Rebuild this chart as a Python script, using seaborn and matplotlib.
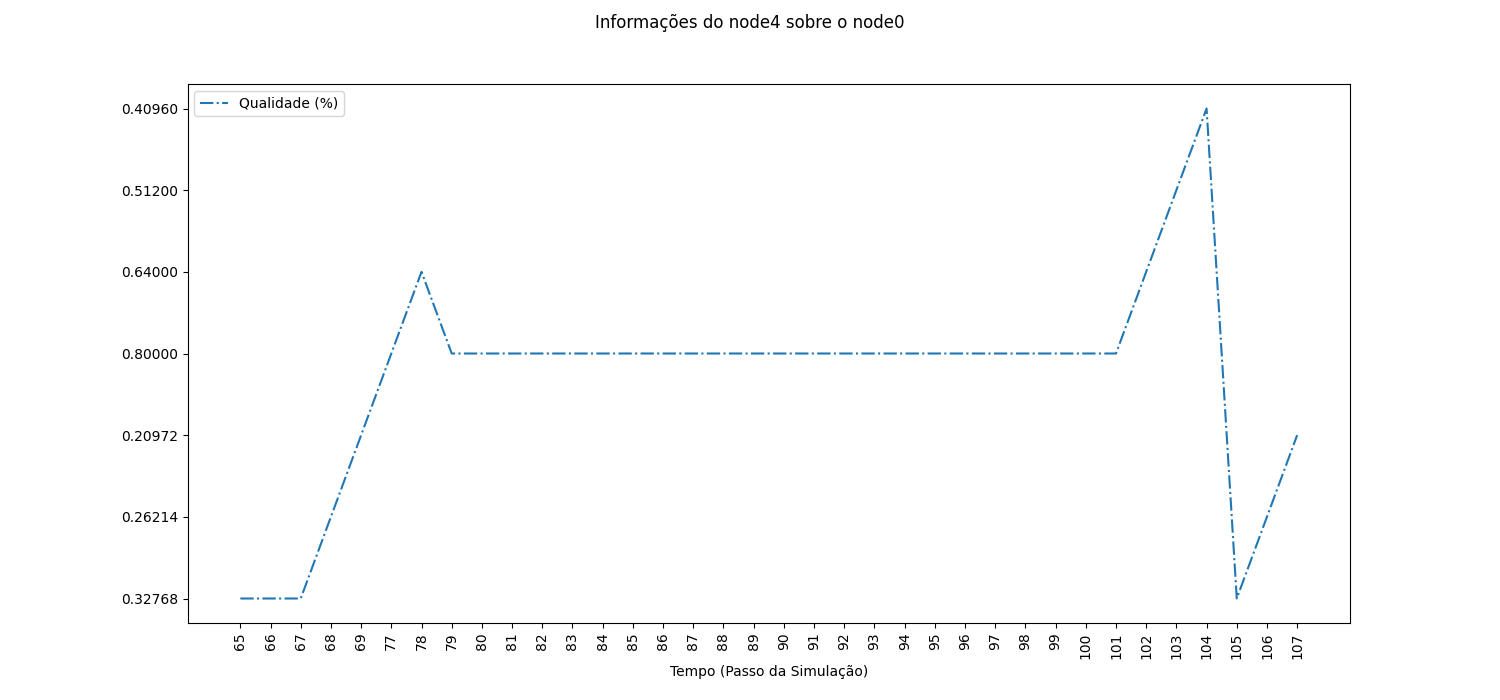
import matplotlib
matplotlib.use('Agg')
import matplotlib.pyplot as plt
import seaborn as sns

# simulation steps (as category labels) and quality values (as text labels)
steps = ['65', '66', '67', '68', '69', '77', '78', '79', '80', '81', '82', '83',
         '84', '85', '86', '87', '88', '89', '90', '91', '92', '93', '94', '95',
         '96', '97', '98', '99', '100', '101', '102', '103', '104', '105', '106', '107']
quality = ['0.32768', '0.32768', '0.32768', '0.26214', '0.20972', '0.80000',
           '0.64000', '0.80000', '0.80000', '0.80000', '0.80000', '0.80000',
           '0.80000', '0.80000', '0.80000', '0.80000', '0.80000', '0.80000',
           '0.80000', '0.80000', '0.80000', '0.80000', '0.80000', '0.80000',
           '0.80000', '0.80000', '0.80000', '0.80000', '0.80000', '0.80000',
           '0.64000', '0.51200', '0.40960', '0.32768', '0.26214', '0.20972']

fig, ax = plt.subplots(figsize=(15, 7), dpi=100)
sns.lineplot(x=steps, y=quality, estimator=None, sort=False, ax=ax,
             linestyle='-.', color='tab:blue', label='Qualidade (%)')

# seaborn flips categorical y axes; put first category at the bottom again
if ax.yaxis_inverted():
    ax.invert_yaxis()

fig.suptitle('Informações do node4 sobre o node0')
ax.set_xlabel('Tempo (Passo da Simulação)')
ax.set_ylabel('')
plt.setp(ax.get_xticklabels(), rotation=90)
ax.legend(loc='upper left')

plt.savefig('out.png')
